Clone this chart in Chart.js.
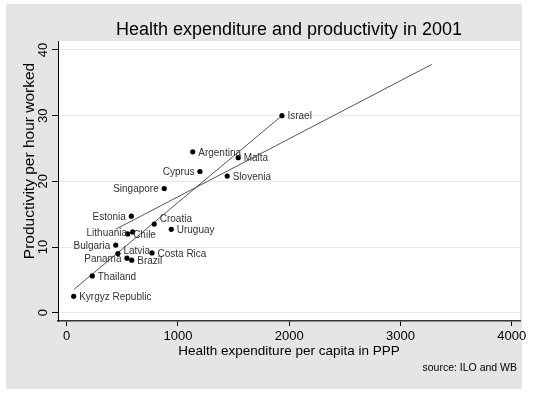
<!DOCTYPE html>
<html>
<head>
<meta charset="utf-8">
<script src="https://cdn.jsdelivr.net/npm/chart.js@4/dist/chart.umd.min.js"></script>
<style>
html,body{margin:0;padding:0;background:#fff;}
canvas{display:block;}
</style>
</head>
<body>
<canvas id="c" width="539" height="396"></canvas>
<script>
// ---- data ----
const countries = ["Israel","Argentina","Malta","Cyprus","Slovenia","Singapore","Estonia","Croatia","Uruguay","Lithuania","Chile","Bulgaria","Latvia","Costa Rica","Panama","Brazil","Thailand","Kyrgyz Republic"];
const healthExp = [1935,1133,1542,1198,1443,877,581,787,940,593,548,441,461,767,542,585,230,63];
const productivity = [30.0,24.5,23.6,21.5,20.8,18.9,14.7,13.5,12.7,12.3,12.0,10.3,9.0,9.1,8.3,8.0,5.6,2.5];
const fitSteepX = [66,1935];
const fitSteepY = [3.56,30.0];
const fitFlatX = [440,3281];
const fitFlatY = [12.7,37.8];
const xTicks = [0,1000,2000,3000,4000];
const yTicks = [0,10,20,30,40];

const titleText = "Health expenditure and productivity in 2001";
const xTitle = "Health expenditure per capita in PPP";
const yTitle = "Productivity per hour worked";
const noteText = "source: ILO and WB";

const labelSide = {"Cyprus":"left","Singapore":"left","Estonia":"left","Lithuania":"left","Bulgaria":"left","Panama":"left","Croatia":"upright","Latvia":"upright"};
const FONT = '"Liberation Sans", Arial, sans-serif';

const bgPlugin = {
  id:'bg',
  beforeDraw(chart){
    const ctx = chart.ctx, a = chart.chartArea;
    ctx.save();
    ctx.fillStyle='#ffffff'; ctx.fillRect(0,0,chart.width,chart.height);
    ctx.fillStyle='#e5e5e5'; ctx.fillRect(6,4,516,385);
    ctx.fillStyle='#ffffff'; ctx.fillRect(a.left,a.top,a.right-a.left,a.bottom-a.top);
    ctx.restore();
  }
};

const textPlugin = {
  id:'texts',
  afterDraw(chart){
    const ctx = chart.ctx, a = chart.chartArea, ys = chart.scales.y;
    ctx.save();
    ctx.fillStyle='#000';
    ctx.font = '18px '+FONT; ctx.textAlign='center'; ctx.textBaseline='alphabetic';
    ctx.fillText(titleText,(a.left+a.right)/2,35);
    ctx.font = '13.5px '+FONT;
    ctx.fillText(xTitle,(a.left+a.right)/2,355);
    ctx.font = '10.5px '+FONT; ctx.textAlign='right';
    ctx.fillText(noteText,517,370.5);
    ctx.font = '13px '+FONT; ctx.textAlign='center';
    yTicks.forEach(v=>{
      const py = ys.getPixelForValue(v);
      ctx.save(); ctx.translate(47.3,py); ctx.rotate(-Math.PI/2);
      ctx.fillText(String(v),0,0); ctx.restore();
    });
    ctx.font = '15.5px '+FONT;
    ctx.save(); ctx.translate(34,161); ctx.rotate(-Math.PI/2);
    ctx.fillText(yTitle,0,0); ctx.restore();
    ctx.restore();
  }
};

const labelPlugin = {
  id:'ptlabels',
  afterDatasetsDraw(chart){
    const ctx = chart.ctx;
    const meta = chart.getDatasetMeta(0);
    ctx.save();
    ctx.font = '10px '+FONT; ctx.fillStyle='#333'; ctx.textBaseline='middle';
    meta.data.forEach((pt,i)=>{
      const name = countries[i];
      const side = labelSide[name] || 'right';
      let x = pt.x, y = pt.y + 1;
      if (side==='left'){ ctx.textAlign='right'; x -= 5.5; }
      else { ctx.textAlign='left'; x += 5.5; if (side==='upright') y -= (name==='Croatia'?6:3.5); }
      ctx.fillText(name,x,y);
    });
    ctx.restore();
  }
};

new Chart(document.getElementById('c'),{
  type:'scatter',
  data:{
    datasets:[
      {label:'countries', data: healthExp.map((v,i)=>({x:v,y:productivity[i]})),
       pointRadius:2.6, pointBackgroundColor:'#000', pointBorderColor:'#000', pointBorderWidth:0, showLine:false},
      {label:'fit1', type:'line', data: fitSteepX.map((v,i)=>({x:v,y:fitSteepY[i]})),
       borderColor:'#555', borderWidth:1, pointRadius:0, fill:false},
      {label:'fit2', type:'line', data: fitFlatX.map((v,i)=>({x:v,y:fitFlatY[i]})),
       borderColor:'#555', borderWidth:1, pointRadius:0, fill:false}
    ]
  },
  options:{
    responsive:false, animation:false, devicePixelRatio:1,
    layout:{padding:{top:41,right:19,left:0,bottom:0}},
    plugins:{legend:{display:false},title:{display:false},tooltip:{enabled:false}},
    scales:{
      x:{type:'linear',min:-78,max:4075,
        afterBuildTicks(s){ s.ticks = xTicks.map(v=>({value:v})); },
        afterFit(s){ s.height = 75; },
        grid:{drawOnChartArea:false,drawTicks:true,tickLength:5,tickColor:'#000',lineWidth:1},
        border:{color:'#333',width:1.5},
        ticks:{font:{family:FONT,size:13},color:'#000',padding:3,maxRotation:0,autoSkip:false,
          callback:(v)=>String(v)}
      },
      y:{type:'linear',min:-1.26,max:41.37,
        afterBuildTicks(s){ s.ticks = yTicks.map(v=>({value:v})); },
        afterFit(s){ s.width = 58; },
        grid:{drawOnChartArea:true,color:'#e8e8e8',drawTicks:true,tickLength:6,tickColor:'#000',lineWidth:1},
        border:{color:'#000',width:1},
        ticks:{display:false}
      }
    }
  },
  plugins:[bgPlugin,labelPlugin,textPlugin]
});
</script>
</body>
</html>
